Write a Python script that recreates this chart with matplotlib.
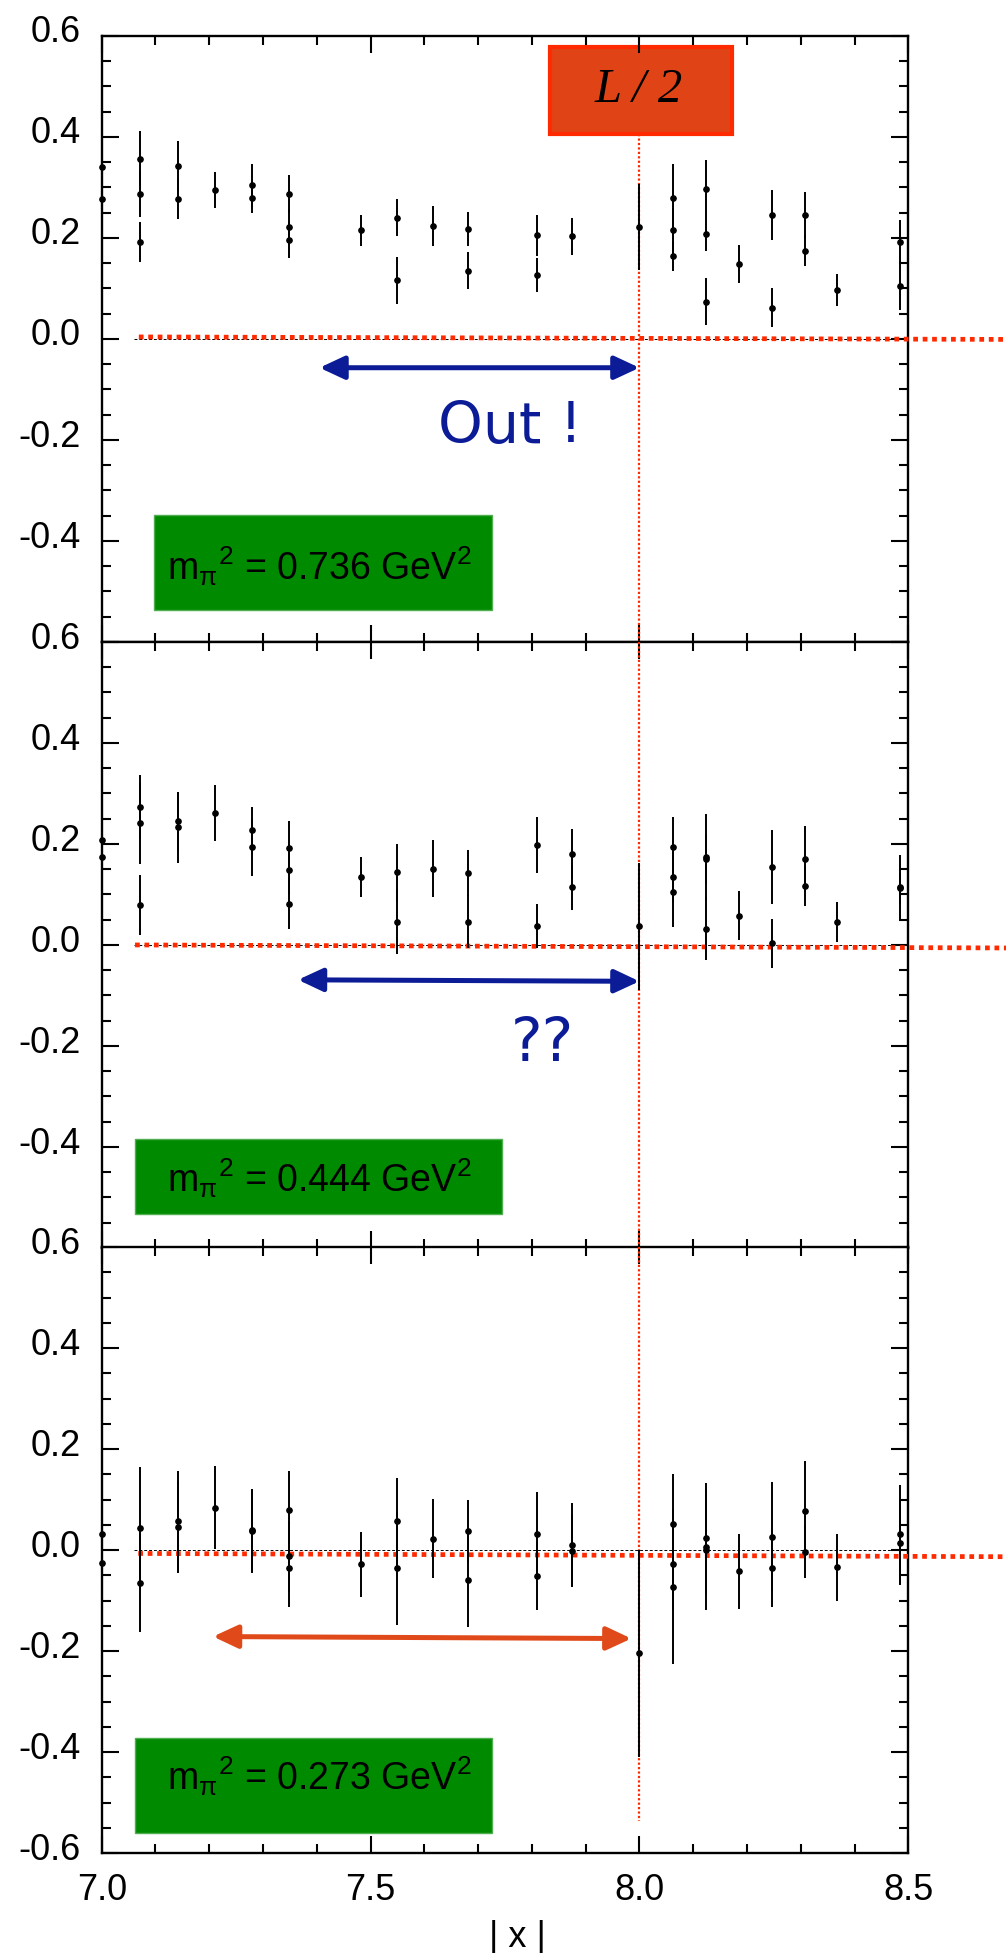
import numpy as np
import matplotlib
matplotlib.use('Agg')
import matplotlib.pyplot as plt
import matplotlib.transforms as mtransforms
from matplotlib.patches import Rectangle, FancyArrowPatch
from matplotlib.ticker import MultipleLocator

plt.rcParams['font.family'] = ['Liberation Sans', 'DejaVu Sans']
plt.rcParams['mathtext.fontset'] = 'custom'
plt.rcParams['mathtext.rm'] = 'Liberation Sans'
plt.rcParams['mathtext.it'] = 'Liberation Sans:italic'

# m_pi^2 = 0.736 GeV^2
x_736 = [7.000, 7.000, 7.071, 7.071, 7.071, 7.141, 7.141, 7.211, 7.280, 7.280,
         7.348, 7.348, 7.348, 7.483, 7.550, 7.550, 7.616, 7.681, 7.681, 7.810,
         7.810, 7.874, 8.000, 8.062, 8.062, 8.062, 8.124, 8.124, 8.124, 8.185,
         8.246, 8.246, 8.307, 8.307, 8.367, 8.485, 8.485]
y_736 = [0.341, 0.277, 0.357, 0.287, 0.192, 0.342, 0.277, 0.295, 0.304, 0.279,
         0.287, 0.222, 0.196, 0.215, 0.240, 0.116, 0.224, 0.218, 0.135, 0.205,
         0.126, 0.203, 0.222, 0.280, 0.215, 0.164, 0.297, 0.207, 0.074, 0.148,
         0.245, 0.062, 0.245, 0.175, 0.097, 0.192, 0.105]
e_736 = [0.030, 0.030, 0.055, 0.045, 0.040, 0.049, 0.040, 0.036, 0.042, 0.029,
         0.038, 0.035, 0.036, 0.030, 0.037, 0.047, 0.039, 0.033, 0.037, 0.041,
         0.034, 0.036, 0.085, 0.066, 0.045, 0.030, 0.057, 0.033, 0.047, 0.038,
         0.049, 0.038, 0.045, 0.031, 0.032, 0.044, 0.047]

# m_pi^2 = 0.444 GeV^2
x_444 = [7.000, 7.000, 7.071, 7.071, 7.071, 7.141, 7.141, 7.211, 7.280, 7.280,
         7.348, 7.348, 7.348, 7.483, 7.550, 7.550, 7.616, 7.681, 7.681, 7.810,
         7.810, 7.874, 7.874, 8.000, 8.062, 8.062, 8.062, 8.124, 8.124, 8.124,
         8.185, 8.246, 8.246, 8.307, 8.307, 8.367, 8.485, 8.485]
y_444 = [0.207, 0.174, 0.273, 0.241, 0.079, 0.245, 0.233, 0.261, 0.227, 0.193,
         0.192, 0.149, 0.081, 0.134, 0.144, 0.046, 0.151, 0.142, 0.046, 0.198,
         0.037, 0.180, 0.114, 0.037, 0.193, 0.134, 0.105, 0.175, 0.170, 0.032,
         0.058, 0.155, 0.003, 0.170, 0.117, 0.046, 0.114, 0.112]
e_444 = [0.040, 0.040, 0.064, 0.080, 0.059, 0.058, 0.070, 0.055, 0.046, 0.056,
         0.054, 0.050, 0.050, 0.040, 0.056, 0.064, 0.057, 0.046, 0.052, 0.056,
         0.044, 0.049, 0.045, 0.126, 0.061, 0.050, 0.069, 0.085, 0.050, 0.062,
         0.048, 0.073, 0.048, 0.065, 0.039, 0.040, 0.065, 0.030]

# m_pi^2 = 0.273 GeV^2
x_273 = [7.000, 7.000, 7.071, 7.071, 7.141, 7.141, 7.211, 7.280, 7.280, 7.348,
         7.348, 7.348, 7.483, 7.550, 7.550, 7.616, 7.681, 7.681, 7.810, 7.810,
         7.874, 7.874, 8.000, 8.062, 8.062, 8.062, 8.124, 8.124, 8.124, 8.185,
         8.246, 8.246, 8.307, 8.307, 8.367, 8.485, 8.485]
y_273 = [0.032, -0.025, 0.044, -0.064, 0.057, 0.046, 0.084, 0.039, 0.038, 0.079,
         -0.012, -0.036, -0.028, 0.057, -0.036, 0.023, 0.038, -0.059, 0.032, -0.051,
         0.010, -0.001, -0.204, 0.052, -0.028, -0.072, 0.024, 0.007, 0.001, -0.042,
         0.027, -0.036, 0.078, -0.003, -0.034, 0.032, 0.015]
e_273 = [0.060, 0.060, 0.120, 0.097, 0.100, 0.092, 0.082, 0.080, 0.083, 0.077,
         0.070, 0.076, 0.065, 0.086, 0.112, 0.079, 0.062, 0.094, 0.083, 0.067,
         0.083, 0.070, 0.205, 0.098, 0.090, 0.153, 0.110, 0.090, 0.120, 0.074,
         0.108, 0.076, 0.098, 0.053, 0.066, 0.098, 0.083]

mass_labels = ['0.736', '0.444', '0.273']
x_ticks = [7.0, 7.5, 8.0, 8.5]
y_ticks = [-0.6, -0.4, -0.2, 0.0, 0.2, 0.4, 0.6]

BLUE = '#0B1C96'
ORANGE = '#E04A1A'
RED = '#FF2A00'
GREEN = '#008A00'

fig = plt.figure(figsize=(10.06, 19.53), dpi=100)
left, width, height = 0.1011, 0.8018, 0.3103
bottoms = [0.6713, 0.3610, 0.0511]

panels = [(x_736, y_736, e_736), (x_444, y_444, e_444), (x_273, y_273, e_273)]
axes = []
for i, (xs, ys, es) in enumerate(panels):
    ax = fig.add_axes([left, bottoms[i], width, height])
    axes.append(ax)
    ax.set_xlim(7.0, 8.5)
    ax.set_ylim(-0.6, 0.6)
    ax.set_xticks(x_ticks)
    ax.set_yticks(y_ticks)
    ax.xaxis.set_minor_locator(MultipleLocator(0.1))
    ax.yaxis.set_minor_locator(MultipleLocator(0.05))
    ax.tick_params(which='both', direction='in', top=True, right=True, width=1.5)
    ax.tick_params(which='major', length=12.5, labelsize=26)
    ax.tick_params(which='minor', length=6.5)
    ax.tick_params(axis='x', pad=14)
    ax.tick_params(axis='y', pad=15)
    for sp in ax.spines.values():
        sp.set_linewidth(1.7)
    ax.yaxis.set_major_formatter(plt.FuncFormatter(lambda v, p: f'{v:.1f}'))
    ax.xaxis.set_major_formatter(plt.FuncFormatter(lambda v, p: f'{v:.1f}'))
    if i < 2:
        ax.tick_params(axis='x', labelbottom=False)
        ax.get_yticklabels()[0].set_visible(False)
    offset = mtransforms.ScaledTranslation(0, 5 / 72, fig.dpi_scale_trans)
    for lab in ax.get_yticklabels():
        lab.set_transform(lab.get_transform() + offset)

    # zero line and data
    ax.plot([7.06, 8.5], [0, 0], color='black', lw=0.7, ls=(0, (3, 2)), zorder=2)
    ax.errorbar(xs, ys, yerr=es, fmt='o', ms=3.8, color='black', ecolor='black',
                elinewidth=1.4, capsize=0, zorder=4, clip_on=False)

# red dotted horizontal lines (run past the right axis)
zero_fits = [([7.069, 8.70], [0.004, -0.001]),
             ([7.062, 8.70], [0.000, -0.006]),
             ([7.068, 8.70], [-0.0065, -0.013])]
for ax, (fx, fy) in zip(axes, zero_fits):
    ax.plot(fx, fy, color=RED, lw=3.4, ls=(0, (1, 1)), clip_on=False, zorder=3)

# vertical dotted line at L/2
axes[0].plot([8.0, 8.0], [0.406, -0.6], color=RED, lw=1.6, ls=(0, (1, 1)), zorder=3)
axes[1].plot([8.0, 8.0], [0.6, -0.6], color=RED, lw=1.6, ls=(0, (1, 1)), zorder=3)
axes[2].plot([8.0, 8.0], [0.6, -0.537], color=RED, lw=1.6, ls=(0, (1, 1)), zorder=3)

# L/2 box
axes[0].add_patch(Rectangle((7.834, 0.406), 0.339, 0.173, facecolor='#E04416',
                            edgecolor=RED, lw=3, zorder=1))
axes[0].text(7.998, 0.492, 'L / 2', family='Liberation Serif', style='italic',
             fontsize=35, ha='center', va='center')

# arrows
arrows = [((7.405, -0.057), (8.0, -0.057), BLUE),
          ((7.365, -0.069), (8.0, -0.072), BLUE),
          ((7.207, -0.171), (7.985, -0.175), ORANGE)]
for ax, (pa, pb, c) in zip(axes, arrows):
    ax.add_patch(FancyArrowPatch(pa, pb, arrowstyle='<|-|>,head_length=1.5,head_width=0.7',
                                 mutation_scale=10, lw=3.6, color=c,
                                 shrinkA=0, shrinkB=0, zorder=5))

axes[0].text(7.625, -0.207, 'Out !', family='DejaVu Sans', fontsize=41, color=BLUE,
             ha='left', va='baseline')
axes[1].text(7.761, -0.229, '??', family='DejaVu Sans', fontsize=43, color=BLUE,
             ha='left', va='baseline')

# green mass boxes
boxes = [(7.097, -0.537, 0.629, 0.189, -0.476),
         (7.062, -0.532, 0.683, 0.148, -0.489),
         (7.062, -0.560, 0.664, 0.189, -0.475)]
for ax, (bx, by, bw, bh, ty), m in zip(axes, boxes, mass_labels):
    ax.add_patch(Rectangle((bx, by), bw, bh, facecolor=GREEN, edgecolor='#4FAF4F',
                           lw=1, zorder=6))
    ax.text(7.121, ty, r'm$_{\mathrm{\pi}}$$^{2}$ = ' + m + r' GeV$^{2}$',
            fontsize=27, ha='left', va='baseline', zorder=7)

fig.text(0.514, 0.0169, '| x |', fontsize=26, ha='center', va='top')

fig.savefig('out.png', dpi=100)
